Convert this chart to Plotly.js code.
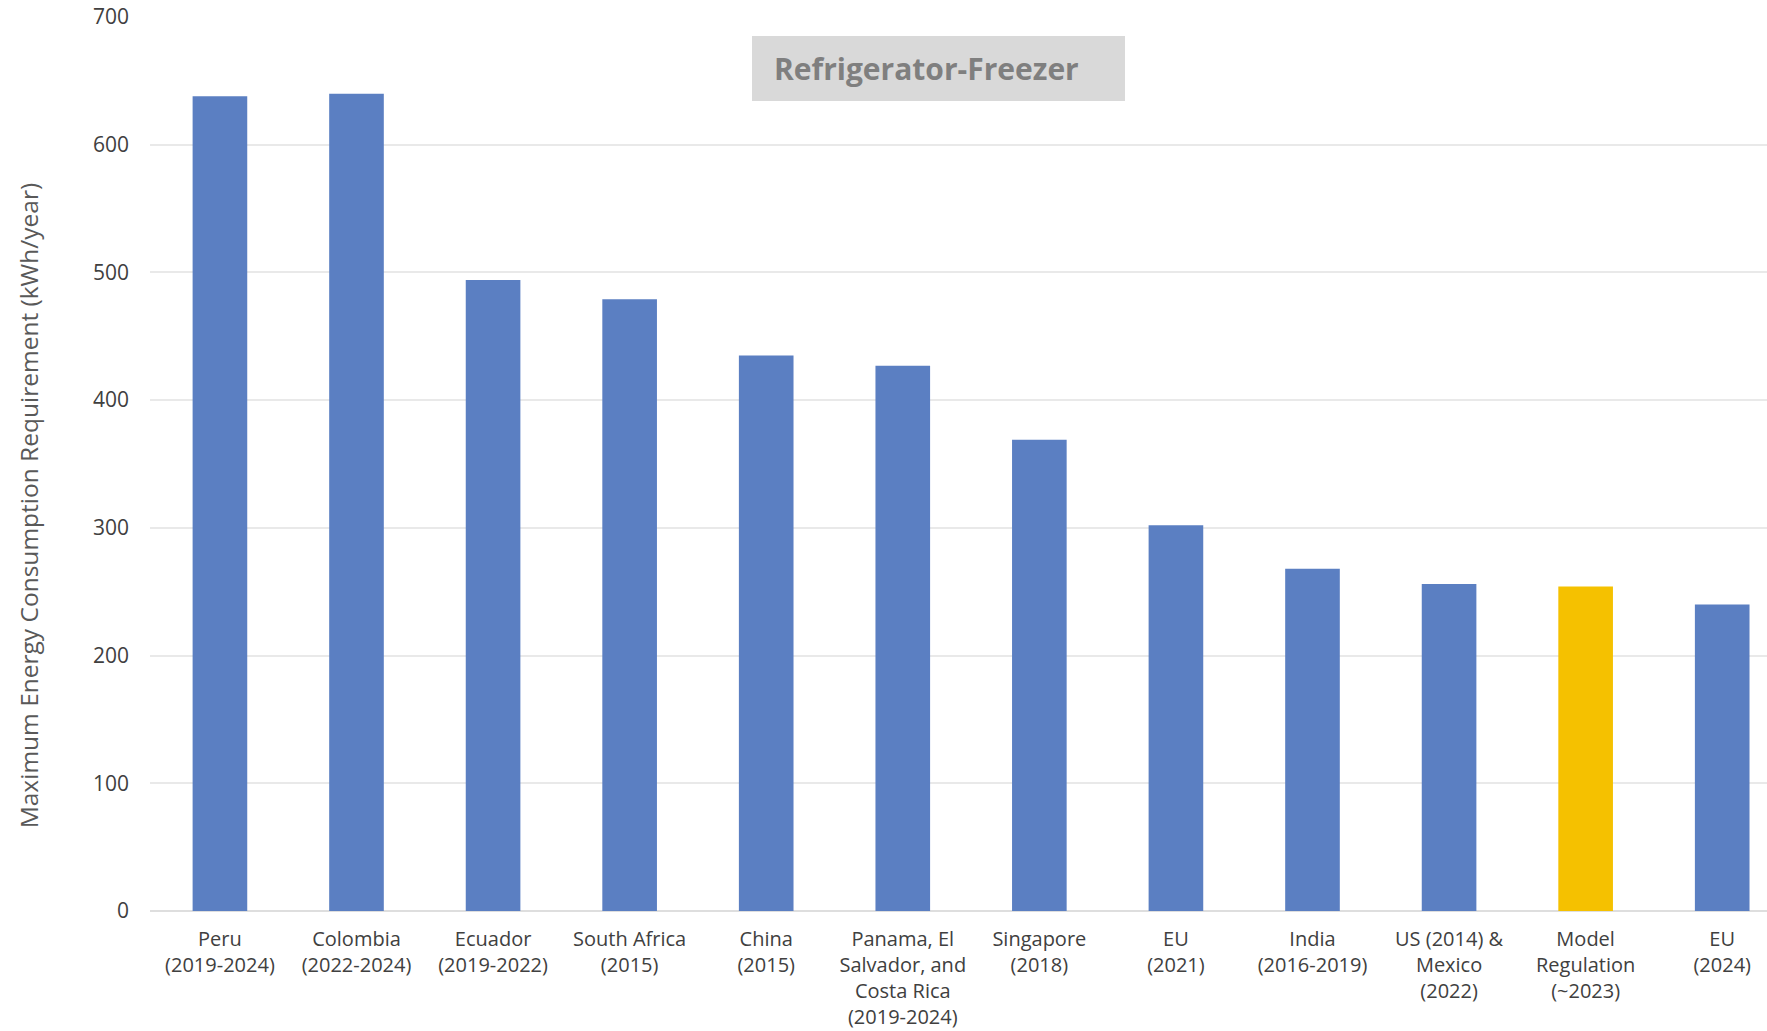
<!DOCTYPE html>
<html>
<head>
<meta charset="utf-8">
<script src="https://cdn.plot.ly/plotly-3.0.1.min.js"></script>
<style>
  html, body { margin: 0; padding: 0; background: #ffffff; }
  #chart { width: 1767px; height: 1031px; }
</style>
</head>
<body>
<div id="chart"></div>
<script>
// ---- Data ----
const categories = [
  "Peru<br>(2019-2024)",
  "Colombia<br>(2022-2024)",
  "Ecuador<br>(2019-2022)",
  "South Africa<br>(2015)",
  "China<br>(2015)",
  "Panama, El<br>Salvador, and<br>Costa Rica<br>(2019-2024)",
  "Singapore<br>(2018)",
  "EU<br>(2021)",
  "India<br>(2016-2019)",
  "US (2014) &amp;<br>Mexico<br>(2022)",
  "Model<br>Regulation<br>(~2023)",
  "EU<br>(2024)"
];
const maxConsumption = [638, 640, 494, 479, 435, 427, 369, 302, 268, 256, 254, 240];
const highlighted = "Model<br>Regulation<br>(~2023)";
const yTicks = [0, 100, 200, 300, 400, 500, 600, 700];
const chartTitle = "Refrigerator-Freezer";
const yTitle = "Maximum Energy Consumption Requirement (kWh/year)";

// ---- Styles ----
const BLUE = "#5b7fc2";
const YELLOW = "#f5c100";
const FONT = "Open Sans, Noto Sans, sans-serif";

const barColors = categories.map(c => c === highlighted ? YELLOW : BLUE);

const trace = {
  type: "bar",
  x: categories,
  y: maxConsumption,
  marker: { color: barColors, line: { width: 0 } },
  hoverinfo: "x+y"
};

const layout = {
  width: 1767,
  height: 1031,
  margin: { l: 150, r: 0, t: 17, b: 120, pad: 0 },
  paper_bgcolor: "#ffffff",
  plot_bgcolor: "#ffffff",
  showlegend: false,
  bargap: 0.6,
  font: { family: FONT, color: "#595959" },
  xaxis: {
    type: "category",
    range: [-0.512, 11.328],
    showgrid: false,
    showline: false,
    zeroline: false,
    ticks: "",
    tickfont: { family: FONT, size: 20, color: "#404040" },
    ticklabelstandoff: 14,
    fixedrange: true
  },
  yaxis: {
    range: [0, 700],
    tickvals: yTicks,
    ticktext: yTicks.map(String),
    showgrid: true,
    gridcolor: "#e9e9e9",
    gridwidth: 1.5,
    zeroline: true,
    zerolinecolor: "#dedede",
    zerolinewidth: 1.5,
    showline: false,
    ticks: "",
    tickfont: { family: FONT, size: 21, color: "#404040" },
    ticklabelstandoff: 20,
    fixedrange: true
  },
  shapes: [
    {
      type: "rect",
      xref: "paper", yref: "paper",
      x0: (752 - 150) / 1617, x1: (1125 - 150) / 1617,
      y0: (911 - 101) / 894, y1: (911 - 36) / 894,
      fillcolor: "#d9d9d9",
      line: { width: 0 },
      layer: "above"
    }
  ],
  annotations: [
    {
      text: "<b>" + chartTitle + "</b>",
      xref: "paper", yref: "paper",
      x: (926 - 150) / 1617, y: (911 - 68.5) / 894,
      xanchor: "center", yanchor: "middle",
      showarrow: false,
      font: { family: FONT, size: 30, color: "#7f7f7f" }
    },
    {
      text: yTitle,
      xref: "paper", yref: "paper",
      x: -0.0754, y: 0.4528,
      xanchor: "center", yanchor: "middle",
      textangle: -90,
      showarrow: false,
      font: { family: FONT, size: 24.5, color: "#595959" }
    }
  ]
};

Plotly.newPlot("chart", [trace], layout, { displayModeBar: false });
</script>
</body>
</html>
